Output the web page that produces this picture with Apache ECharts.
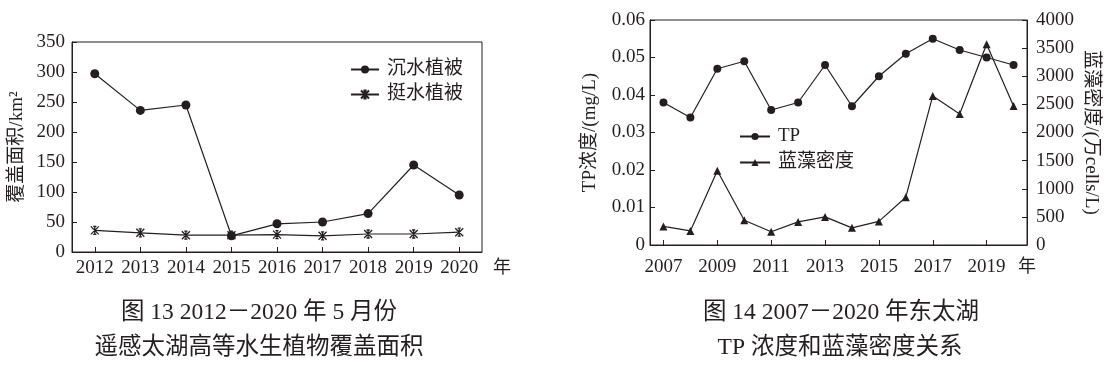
<!DOCTYPE html>
<html>
<head>
<meta charset="utf-8">
<script src="https://cdn.jsdelivr.net/npm/echarts@6/dist/echarts.min.js"></script>
<style>
html,body{margin:0;padding:0;background:#fff;}
#c{width:1116px;height:368px;}
</style>
</head>
<body>
<div id="c"></div>
<script>
// ---- Figure 13 data ----
const years13 = ['2012','2013','2014','2015','2016','2017','2018','2019','2020'];
const submerged = [297, 236, 245, 27, 47, 50, 64, 145, 95];
const emergent = [36, 32, 28, 28, 29, 27, 30, 30, 33];
// ---- Figure 14 data ----
const years14 = ['2007','2008','2009','2010','2011','2012','2013','2014','2015','2016','2017','2018','2019','2020'];
const tp = [0.038, 0.034, 0.047, 0.049, 0.036, 0.038, 0.048, 0.037, 0.045, 0.051, 0.055, 0.052, 0.050, 0.048];
const algae = [330, 250, 1320, 440, 235, 410, 500, 305, 420, 850, 2650, 2330, 3570, 2470];
const caption13 = ['图 13 2012－2020 年 5 月份', '遥感太湖高等水生植物覆盖面积'];
const caption14 = ['图 14 2007－2020 年东太湖', 'TP 浓度和蓝藻密度关系'];

const INK = '#231f20';
const FONT = "'Liberation Serif', 'Noto Sans CJK SC', serif";
const starPath = 'path://M0,0L10,10M10,0L0,10M5,0L5,10M3,0L7,0M3,10L7,10';

const chart = echarts.init(document.getElementById('c'), null, {renderer: 'canvas'});

const axisLine = {show: true, lineStyle: {color: INK, width: 1}};
const tickIn = {show: true, inside: true, length: 5, lineStyle: {color: INK, width: 1}};
const lbl = (m) => ({color: INK, fontFamily: FONT, fontSize: 19, margin: m, hideOverlap: false});

const option = {
  animation: false,
  backgroundColor: '#fff',
  textStyle: {fontFamily: FONT, color: INK},
  grid: [
    {left: 72, top: 42, width: 410, height: 210, show: true, borderColor: INK, borderWidth: 1, backgroundColor: 'transparent'},
    {left: 650, top: 20, width: 377, height: 225, show: true, borderColor: INK, borderWidth: 1, backgroundColor: 'transparent'}
  ],
  legend: [
    {
      orient: 'vertical', left: 345, top: 55, itemGap: 6, itemWidth: 28, itemHeight: 10,
      data: ['沉水植被', '挺水植被'],
      textStyle: {fontFamily: FONT, fontSize: 19, color: INK, padding: [0, 0, 0, 3]}
    },
    {
      orient: 'vertical', left: 734, top: 122, itemGap: 7, itemWidth: 30, itemHeight: 9,
      data: ['TP', '蓝藻密度'],
      textStyle: {fontFamily: FONT, fontSize: 19, color: INK, padding: [0, 0, 0, 3]}
    }
  ],
  xAxis: [
    {
      type: 'category', gridIndex: 0, data: years13, boundaryGap: true,
      axisLine: axisLine,
      axisTick: Object.assign({alignWithLabel: true, interval: 0}, tickIn),
      axisLabel: Object.assign({interval: 0}, lbl(7)),
      name: '年', nameLocation: 'end', nameGap: 20,
      nameTextStyle: {fontFamily: FONT, fontSize: 18, color: INK, align: 'center', verticalAlign: 'top', padding: [7, 0, 0, 0]}
    },
    {
      type: 'category', gridIndex: 1, data: years14, boundaryGap: true,
      axisLine: axisLine,
      axisTick: Object.assign({alignWithLabel: true, interval: 1}, tickIn),
      axisLabel: Object.assign({interval: 1}, lbl(13)),
      name: '年', nameLocation: 'end', nameGap: 0,
      nameTextStyle: {fontFamily: FONT, fontSize: 18, color: INK, align: 'center', verticalAlign: 'top', padding: [13, 0, 0, 0]}
    }
  ],
  yAxis: [
    {
      type: 'value', gridIndex: 0, min: 0, max: 350, interval: 50,
      axisLine: axisLine, axisTick: tickIn, splitLine: {show: false},
      axisLabel: lbl(7),
      name: '覆盖面积/km²', nameLocation: 'middle', nameRotate: 90, nameGap: 45,
      nameTextStyle: {fontFamily: FONT, fontSize: 19, color: INK}
    },
    {
      type: 'value', gridIndex: 1, min: 0, max: 0.06, interval: 0.01,
      axisLine: axisLine, axisTick: tickIn, splitLine: {show: false},
      axisLabel: Object.assign({formatter: v => v === 0 ? '0' : v.toFixed(2)}, lbl(5)),
      name: 'TP浓度/(mg/L)', nameLocation: 'middle', nameRotate: 90, nameGap: 50,
      nameTextStyle: {fontFamily: FONT, fontSize: 19, color: INK}
    },
    {
      type: 'value', gridIndex: 1, position: 'right', min: 0, max: 4000, interval: 500,
      axisLine: axisLine, axisTick: tickIn, splitLine: {show: false},
      axisLabel: Object.assign({formatter: v => String(v)}, lbl(9)),
      name: '蓝藻密度/(万cells/L)', nameLocation: 'middle', nameRotate: -90, nameGap: 54,
      nameTextStyle: {fontFamily: FONT, fontSize: 19, color: INK}
    }
  ],
  series: [
    {
      name: '沉水植被', type: 'line', xAxisIndex: 0, yAxisIndex: 0, data: submerged,
      symbol: 'circle', symbolSize: 9, showAllSymbol: true,
      lineStyle: {color: INK, width: 1.2}, itemStyle: {color: INK}
    },
    {
      name: '挺水植被', type: 'line', xAxisIndex: 0, yAxisIndex: 0, data: emergent,
      symbol: starPath, symbolSize: 8, showAllSymbol: true,
      lineStyle: {color: INK, width: 1.2}, itemStyle: {color: INK, borderColor: INK, borderWidth: 1.3}
    },
    {
      name: 'TP', type: 'line', xAxisIndex: 1, yAxisIndex: 1, data: tp,
      symbol: 'circle', symbolSize: 8, showAllSymbol: true,
      lineStyle: {color: INK, width: 1.2}, itemStyle: {color: INK}
    },
    {
      name: '蓝藻密度', type: 'line', xAxisIndex: 1, yAxisIndex: 2, data: algae,
      symbol: 'triangle', symbolSize: 8, showAllSymbol: true,
      lineStyle: {color: INK, width: 1.2}, itemStyle: {color: INK}
    }
  ],
  graphic: [
    {type: 'text', x: 259, y: 313, style: {text: caption13[0], font: "23.5px " + FONT, fill: INK, textAlign: 'center', textVerticalAlign: 'middle'}},
    {type: 'text', x: 259, y: 348, style: {text: caption13[1], font: "23.5px " + FONT, fill: INK, textAlign: 'center', textVerticalAlign: 'middle'}},
    {type: 'text', x: 841, y: 313, style: {text: caption14[0], font: "23.5px " + FONT, fill: INK, textAlign: 'center', textVerticalAlign: 'middle'}},
    {type: 'text', x: 840, y: 348, style: {text: caption14[1], font: "23.5px " + FONT, fill: INK, textAlign: 'center', textVerticalAlign: 'middle'}}
  ]
};
chart.setOption(option);
</script>
</body>
</html>
